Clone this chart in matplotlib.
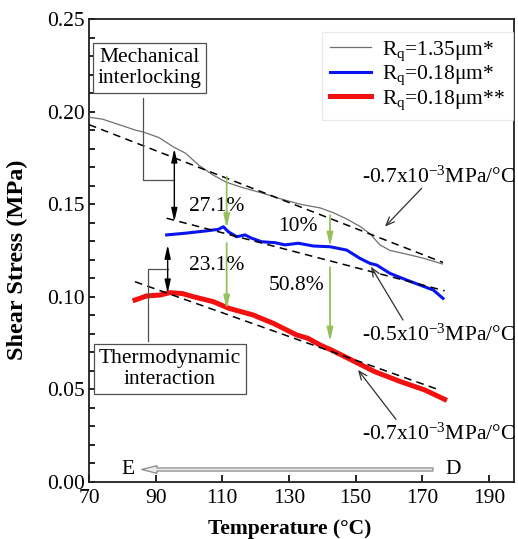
import matplotlib
matplotlib.use("Agg")
import matplotlib.pyplot as plt
from matplotlib.ticker import MultipleLocator, FormatStrFormatter

plt.rcParams['font.family'] = ['Liberation Serif', 'DejaVu Serif']
plt.rcParams['mathtext.fontset'] = 'custom'
plt.rcParams['mathtext.rm'] = 'Liberation Serif'
plt.rcParams['mathtext.it'] = 'Liberation Serif:italic'
plt.rcParams['mathtext.bf'] = 'Liberation Serif:bold'

# Shear stress vs temperature for the three surfaces
temp_rough = [70, 74, 79, 84, 86.3, 91, 95.3, 99, 103, 107, 111, 116, 122, 127.3,
              133.3, 139.3, 143.3, 147.3, 151.3, 154.3, 157.3, 160.3, 165.3, 170.3, 176]
stress_rough = [0.197, 0.196, 0.193, 0.190, 0.189, 0.186, 0.181, 0.1775, 0.171, 0.166,
                0.162, 0.159, 0.156, 0.153, 0.150, 0.148, 0.1454, 0.142, 0.138, 0.134,
                0.128, 0.125, 0.123, 0.1208, 0.1177]

temp_smooth = [93.3, 98.8, 104.8, 108.8, 110.3, 111.8, 114.3, 116.8, 118.8, 121.8, 125.8,
               128.8, 132.8, 137.3, 142.3, 147.3, 151.3, 154.3, 156.3, 160.3, 165.3, 169.3,
               173.3, 176.2]
stress_smooth = [0.1334, 0.1343, 0.1355, 0.1364, 0.1378, 0.1351, 0.1324, 0.1334, 0.1316,
                 0.1297, 0.1292, 0.128, 0.1289, 0.1274, 0.127, 0.1252, 0.1207, 0.118,
                 0.1171, 0.1126, 0.109, 0.1063, 0.1036, 0.0991]

temp_smooth2 = [83.8, 87.3, 91.3, 94.3, 98, 101.3, 107.3, 112, 119.3, 120.7, 125.3, 132.3,
                135.7, 139.3, 142.7, 148.3, 155.7, 163.6, 170.7, 176.7]
stress_smooth2 = [0.0982, 0.1004, 0.1009, 0.1022, 0.1017, 0.1000, 0.0973, 0.0937, 0.0901,
                  0.0890, 0.0856, 0.0793, 0.0775, 0.0739, 0.0712, 0.0662, 0.0595, 0.054,
                  0.0496, 0.0445]

# Linear fits (start/end temperature, start/end stress)
fit_rough_x, fit_rough_y = [70, 176.2], [0.193, 0.1185]
fit_smooth_x, fit_smooth_y = [93.3, 176.7], [0.1424, 0.1032]
fit_smooth2_x, fit_smooth2_y = [83.8, 175.1], [0.1081, 0.0496]

series_labels = [r'R$_\mathrm{q}$=1.35μm*', r'R$_\mathrm{q}$=0.18μm*', r'R$_\mathrm{q}$=0.18μm**']
slope_labels = [r'-0.7x10$^{\mathrm{-3}}$MPa/°C', r'-0.5x10$^{\mathrm{-3}}$MPa/°C',
                r'-0.7x10$^{\mathrm{-3}}$MPa/°C']
drop_labels = ['27.1%', '23.1%', '10%', '50.8%']
x_ticks = [70, 90, 110, 130, 150, 170, 190]

fig = plt.figure(figsize=(5.18, 5.39), dpi=100)
ax = fig.add_axes([0.1718, 0.1063, 0.8205, 0.8581])

FS = 15.5
ax.plot(temp_rough, stress_rough, color='#707070', lw=0.9, label=series_labels[0], zorder=3)
ax.plot(temp_smooth, stress_smooth, color='#0a14f0', lw=2.2, label=series_labels[1], zorder=3)
ax.plot(temp_smooth2, stress_smooth2, color='#f21010', lw=3.6, label=series_labels[2], zorder=3)

for fx, fy in [(fit_rough_x, fit_rough_y), (fit_smooth_x, fit_smooth_y),
               (fit_smooth2_x, fit_smooth2_y)]:
    ax.plot(fx, fy, color='black', lw=1.1, ls=(0, (5, 3.5)), zorder=4)

ax.set_xlim(70, 197.5)
ax.set_ylim(0, 0.25)
ax.set_xticks(x_ticks)
ax.yaxis.set_major_locator(MultipleLocator(0.05))
ax.yaxis.set_minor_locator(MultipleLocator(0.01))
ax.yaxis.set_major_formatter(FormatStrFormatter('%.2f'))
ax.tick_params(axis='both', which='both', direction='in', labelsize=FS, width=1.2)
ax.tick_params(axis='x', which='major', length=5, pad=5)
ax.tick_params(axis='y', which='major', length=4.5, pad=3)
ax.tick_params(axis='y', which='minor', length=4)
for s in ax.spines.values():
    s.set_linewidth(1.3)
    s.set_color('#202020')

ax.set_xlabel('Temperature (°C)', fontsize=FS, fontweight='bold')
ax.set_ylabel('Shear Stress (MPa)', fontsize=17.5, fontweight='bold')
ax.xaxis.set_label_coords(0.473, -0.081)
ax.yaxis.set_label_coords(-0.1435, 0.479)

leg = ax.legend(loc='upper right', bbox_to_anchor=(1.0, 0.975), fontsize=FS, frameon=True,
                fancybox=False, handlelength=1.9, handletextpad=0.55, labelspacing=0.05,
                borderpad=0.35, borderaxespad=0.05)
leg.get_frame().set_edgecolor('#e4e4e4')
leg.get_frame().set_linewidth(0.8)

# Vertical drop arrows between curves
green = '#98c05a'
for xa, y_from, y_to in [(111.3, 0.165, 0.137), (111.3, 0.129, 0.093),
                         (142.3, 0.144, 0.127), (142.3, 0.116, 0.0757)]:
    ax.annotate('', xy=(xa, y_to), xytext=(xa, y_from),
                arrowprops=dict(arrowstyle='-|>,head_length=0.8,head_width=0.18',
                                color=green, lw=1.3, shrinkA=0, shrinkB=0), zorder=5)

# Double-headed arrows showing offsets between fits
for xa, y_top, y_bot in [(95.6, 0.180, 0.1405), (93.6, 0.128, 0.1018)]:
    ax.annotate('', xy=(xa, y_bot), xytext=(xa, y_top),
                arrowprops=dict(arrowstyle='<|-|>,head_length=0.8,head_width=0.18',
                                color='black', lw=1.0, shrinkA=0, shrinkB=0), zorder=5)

# Explanatory boxes with leader lines
ax.plot([86.3, 86.3, 95.6], [0.2076, 0.163, 0.163], color='#505050', lw=0.9, zorder=4)
ax.text(88.2, 0.2237, 'Mechanical\ninterlocking', fontsize=FS, ha='center', va='center',
        linespacing=1.15, zorder=6,
        bbox=dict(boxstyle='square,pad=0.22', fc='white', ec='#505050', lw=0.9))
ax.plot([87.8, 87.8, 93.6], [0.0761, 0.1148, 0.1148], color='#505050', lw=0.9, zorder=4)
ax.text(94.3, 0.0610, 'Thermodynamic\ninteraction', fontsize=FS, ha='center', va='center',
        linespacing=1.15, zorder=6,
        bbox=dict(boxstyle='square,pad=0.22', fc='white', ec='#505050', lw=0.9))

# Percentage labels
for lbl, (tx, ty) in zip(drop_labels, [(108.3, 0.1486), (108.3, 0.117),
                                       (132.7, 0.1378), (132.2, 0.1063)]):
    ax.text(tx, ty, lbl, fontsize=FS, ha='center', va='center', zorder=6)

# Slope labels with pointers
slope_ptr = [((169.8, 0.1586), (158.8, 0.1379)),
             ((164.2, 0.0874), (154.6, 0.1162)),
             ((162.1, 0.0337), (150.7, 0.0604))]
for lbl, ty, (tail, tip) in zip(slope_labels, [0.1648, 0.0790, 0.0258], slope_ptr):
    ax.text(198.0, ty, lbl, fontsize=FS, ha='right', va='center', zorder=6)
    ax.annotate('', xy=tip, xytext=tail,
                arrowprops=dict(arrowstyle='->,head_length=0.6,head_width=0.25',
                                color='#303030', lw=0.9, shrinkA=0, shrinkB=0), zorder=5)

# Cooling direction D -> E
ax.annotate('', xy=(85.8, 0.0066), xytext=(173.2, 0.0066),
            arrowprops=dict(arrowstyle='simple,head_length=1.1,head_width=0.55,tail_width=0.22',
                            fc='#ececec', ec='#8a8a8a', lw=0.9, shrinkA=0, shrinkB=0))
ax.text(81.8, 0.0066, 'E', fontsize=FS, ha='center', va='center')
ax.text(179.3, 0.0066, 'D', fontsize=FS, ha='center', va='center')

fig.savefig('out.png', dpi=100)
